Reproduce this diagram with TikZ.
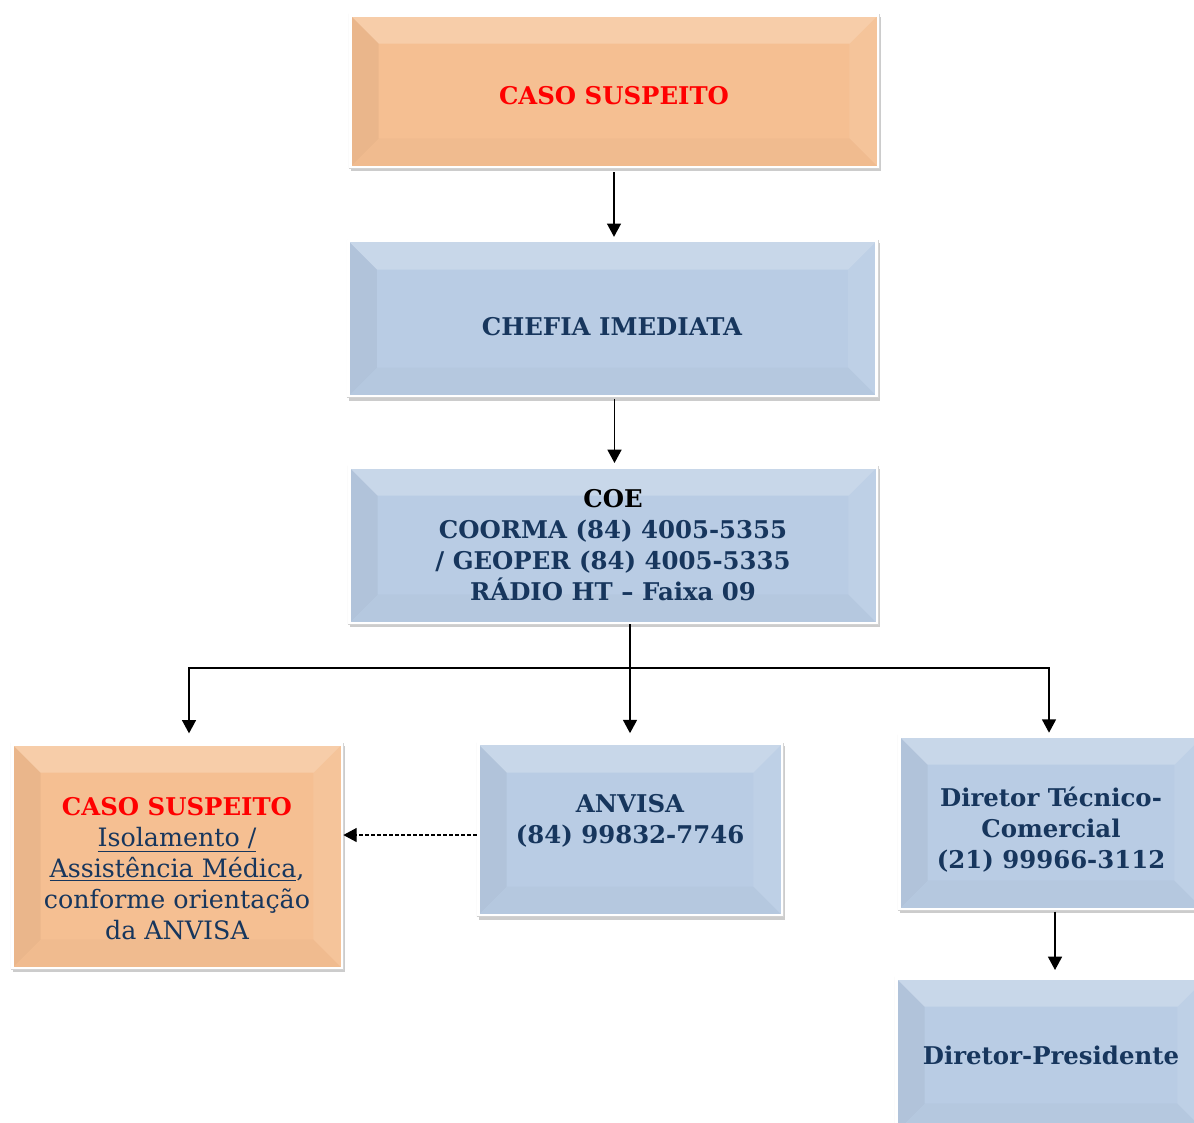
\documentclass[tikz,border=0pt]{standalone}
\usepackage{fontspec}
\setmainfont{DejaVu Serif}
\usetikzlibrary{calc,arrows.meta,shadows}
\definecolor{boxorange}{RGB}{245,191,146}
\definecolor{boxblue}{RGB}{185,204,228}
\definecolor{navy}{RGB}{23,54,93}
\tikzset{every picture/.style={line width=0.75pt}}
\tikzset{
	box/.style={fill=#1, draw={rgb, 255:red, 212; green, 212; blue, 212 }, line width=0.5pt, inner sep=0pt,
		drop shadow={shadow xshift=1.5pt, shadow yshift=-2.5pt, fill=black, opacity=0.2}},
	boxtxt/.style={align=center, text=navy, font=\fontsize{18.3}{23.25}\selectfont\bfseries},
	bodytxt/.style={align=center, text=navy, font=\fontsize{19}{23.25}\selectfont},
	link/.style={line width=1.1pt, -{Triangle[length=10pt,width=10.5pt]}},
	dashlink/.style={line width=0.9pt, dash pattern=on 3pt off 1.5pt, -{Triangle[length=10pt,width=10.5pt]}}}
% bevelled edges of a box node
\newcommand{\bevel}[1]{%
	\fill[white, opacity=0.22] (#1.north west) -- (#1.north east) -- ($(#1.north east)+(-30,30)$) -- ($(#1.north west)+(30,30)$) -- cycle;
	\fill[black, opacity=0.045] (#1.north west) -- ($(#1.north west)+(30,30)$) -- ($(#1.south west)+(30,-30)$) -- (#1.south west) -- cycle;
	\fill[white, opacity=0.08] (#1.north east) -- ($(#1.north east)+(-30,30)$) -- ($(#1.south east)+(-30,-30)$) -- (#1.south east) -- cycle;
	\fill[black, opacity=0.02] (#1.south west) -- ($(#1.south west)+(30,-30)$) -- ($(#1.south east)+(-30,-30)$) -- (#1.south east) -- cycle;
	\draw[white, line width=2pt] ($(#1.north west)+(1.5,1.5)$) rectangle ($(#1.south east)+(-1.5,-1.5)$);}

\begin{document}
\begin{tikzpicture}[x=0.75pt,y=0.75pt,yscale=-1,xscale=1]
	\useasboundingbox (0,0) rectangle (1194,1122);

	% Boxes
	\node[box=boxorange, minimum width=397.5pt, minimum height=115.5pt] (b1) at (614,91) {};
	\bevel{b1}
	\node[box=boxblue, minimum width=398pt, minimum height=118pt] (b2) at (612.5,318.5) {};
	\bevel{b2}
	\node[box=boxblue, minimum width=397.5pt, minimum height=118.5pt] (b3) at (613,545) {};
	\bevel{b3}
	\node[box=boxorange, minimum width=249pt, minimum height=169.5pt] (b4) at (177,856) {};
	\bevel{b4}
	\node[box=boxblue, minimum width=229.5pt, minimum height=130pt] (b5) at (630,829.5) {};
	\bevel{b5}
	\node[box=boxblue, minimum width=229.5pt, minimum height=131.25pt] (b6) at (1051,822.5) {};
	\bevel{b6}
	\node[box=boxblue, minimum width=234pt, minimum height=117pt] (b7) at (1051,1055) {};
	\bevel{b7}

	% Texts
	\node[boxtxt, text=red] (t1) at (614,96) {CASO SUSPEITO};
	\node[boxtxt] (t2) at (612,327) {CHEFIA IMEDIATA};
	\node[boxtxt] (t3) at (613,545) {{\color{black}COE}\\COORMA (84) 4005-5355\\/ GEOPER (84) 4005-5335\\RÁDIO HT – Faixa 09};
	\node[bodytxt] (t4) at (177,869) {{\bfseries\fontsize{18.3}{23.25}\selectfont\color{red}CASO SUSPEITO}\\\underline{Isolamento /}\\\underline{Assistência Médica},\\conforme orientação\\da ANVISA};
	\node[boxtxt] (t5) at (630,821) {ANVISA\\(84) 99832-7746};
	\node[boxtxt] (t6) at (1051,830) {Diretor Técnico-\\Comercial\\(21) 99966-3112};
	\node[boxtxt] (t7) at (1051,1055) {Diretor-Presidente};

	% Connectors
	\draw[link, shorten <=3pt, shorten >=2pt] (b1.south) -- (b1.south |- b2.north);
	\draw[link, shorten <=1pt, shorten >=2pt] ($(b2.south)+(2,0)$) -- ($(b2.south |- b3.north)+(2,0)$);
	\coordinate (bus) at (630,668);
	\draw[line width=1.1pt] (b3.south -| bus) -- (bus);
	\draw[link, shorten >=7pt] (bus) -| ($(b4.north)+(12,0)$);
	\draw[link, shorten >=7pt] (bus) -- (bus |- b5.north);
	\draw[link, shorten >=1.5pt] (bus) -| ($(b6.north)+(-2,0)$);
	\coordinate (dash) at ($(b5.west)+(0,5.5)$);
	\draw[dashlink] (dash) -- (dash -| b4.east);
	\draw[link, shorten <=1pt, shorten >=5pt] ($(b6.south)+(4,0)$) -- ($(b6.south |- b7.north)+(4,0)$);
\end{tikzpicture}
\end{document}
